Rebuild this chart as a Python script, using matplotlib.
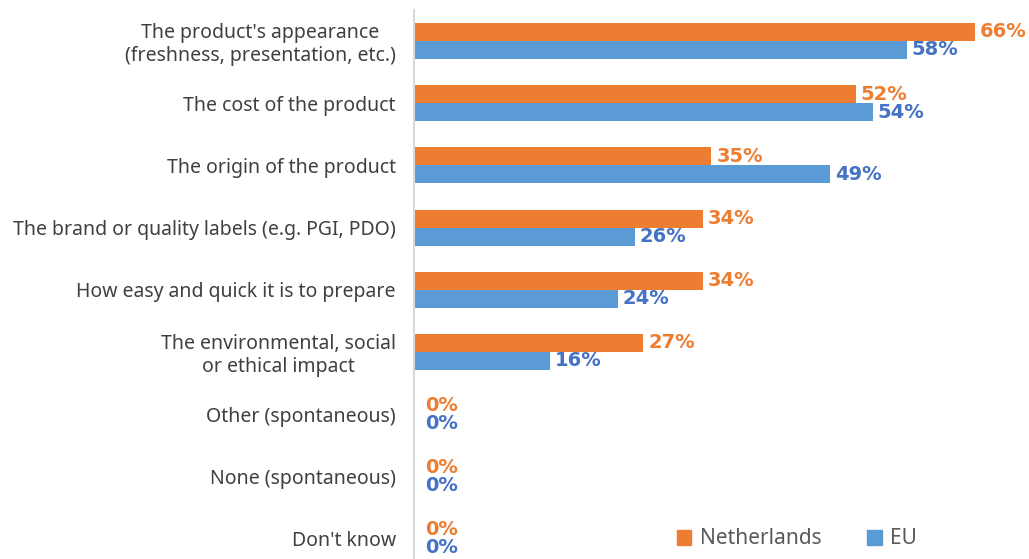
import matplotlib.pyplot as plt
import numpy as np
from matplotlib.patches import Patch

CATEGORIES = [
    "The product's appearance\n(freshness, presentation, etc.)",
    "The cost of the product",
    "The origin of the product",
    "The brand or quality labels (e.g. PGI, PDO)",
    "How easy and quick it is to prepare",
    "The environmental, social\nor ethical impact",
    "Other (spontaneous)",
    "None (spontaneous)",
    "Don't know",
]
NETHERLANDS = [66, 52, 35, 34, 34, 27, 0, 0, 0]
EU = [58, 54, 49, 26, 24, 16, 0, 0, 0]

ORANGE = "#ED7D31"
BLUE = "#5B9BD5"
BLUE_TEXT = "#4472C4"
TEXT_GREY = "#404040"
FONT = "Noto Sans"
BAR_H = 0.29

plt.rcParams["font.family"] = [FONT, "DejaVu Sans"]

fig = plt.figure(figsize=(10.29, 5.59), dpi=100)
ax = fig.add_axes([414 / 1029, 0, 1 - 414 / 1029, 549 / 559])

y = np.arange(len(CATEGORIES))
ax.barh(y - BAR_H / 2, NETHERLANDS, height=BAR_H, color=ORANGE)
ax.barh(y + BAR_H / 2, EU, height=BAR_H, color=BLUE)

label_kw = dict(fontsize=14, fontweight="bold", family="DejaVu Sans",
                va="center", ha="left", clip_on=False)
for yi, v in zip(y, NETHERLANDS):
    off = 1.3 if v == 0 else 0.6
    ax.text(v + off, yi - BAR_H / 2, f"{v}%", color=ORANGE, **label_kw)
for yi, v in zip(y, EU):
    off = 1.3 if v == 0 else 0.6
    ax.text(v + off, yi + BAR_H / 2, f"{v}%", color=BLUE_TEXT, **label_kw)

ax.set_xlim(0, 72.4)
ax.set_ylim(8.33, -0.498)
ax.set_yticks(y)
ax.set_yticklabels(CATEGORIES, fontsize=14, color=TEXT_GREY, multialignment="center")
ax.tick_params(axis="y", length=0, pad=13)
ax.set_xticks([])
for side in ["top", "right", "bottom"]:
    ax.spines[side].set_visible(False)
ax.spines["left"].set_color("#D9D9D9")
ax.spines["left"].set_linewidth(1.5)

handles = [Patch(color=ORANGE), Patch(color=BLUE)]
fig.legend(handles, ["Netherlands", "EU"], loc="center left",
           bbox_to_anchor=(658 / 1029, 1 - 539 / 559), ncol=2, frameon=False,
           fontsize=15, handlelength=0.7, handleheight=0.7, handletextpad=0.4,
           columnspacing=2.2, labelcolor="#595959")

fig.savefig("out.png", dpi=100)
